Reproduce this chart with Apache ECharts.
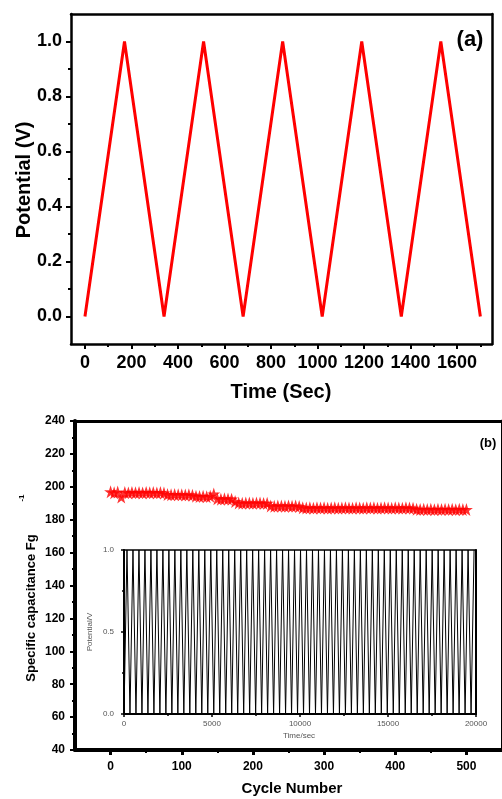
<!DOCTYPE html>
<html>
<head>
<meta charset="utf-8">
<script src="https://cdn.jsdelivr.net/npm/echarts@6/dist/echarts.min.js"></script>
<style>
html,body{margin:0;padding:0;background:#fff;}
#c{width:502px;height:799px;}
</style>
</head>
<body>
<div id="c"></div>
<script>
// ---- Panel (a): galvanostatic charge/discharge ----
var timeA = [0, 170, 340, 510, 680, 850, 1020, 1190, 1360, 1530, 1700];
var potentialA = [0, 1, 0, 1, 0, 1, 0, 1, 0, 1, 0];
var xTicksA = [0, 200, 400, 600, 800, 1000, 1200, 1400, 1600];
var xMinorA = [100, 300, 500, 700, 900, 1100, 1300, 1500, 1700];
var yTicksA = [0, 0.2, 0.4, 0.6, 0.8, 1.0];
var yMinorA = [0.1, 0.3, 0.5, 0.7, 0.9];

// ---- Panel (b): cycling stability ----
var cycles = [0,5,10,15,20,25,30,35,40,45,50,55,60,65,70,75,80,85,90,95,
  100,105,110,115,120,125,130,135,140,145,150,155,160,165,170,175,180,185,190,195,
  200,205,210,215,220,225,230,235,240,245,250,255,260,265,270,275,280,285,290,295,
  300,305,310,315,320,325,330,335,340,345,350,355,360,365,370,375,380,385,390,395,
  400,405,410,415,420,425,430,435,440,445,450,455,460,465,470,475,480,485,490,495,500];
var capacitance = [197.0,196.4,196.8,193.8,196.5,196.3,196.6,196.4,196.5,196.3,
  196.6,196.4,196.5,196.3,196.5,196.2,195.3,195.1,195.3,195.2,
  195.2,195.0,195.2,194.9,194.3,194.1,194.3,194.0,194.2,195.6,
  192.7,192.5,192.7,192.6,192.5,191.0,190.2,190.0,190.2,190.1,
  190.0,190.2,190.1,189.9,190.0,188.4,188.2,188.4,188.3,188.2,
  188.4,188.2,188.3,188.0,187.2,187.1,187.2,187.0,187.2,187.1,
  187.2,187.0,187.1,187.2,187.0,187.1,187.2,187.1,187.0,187.2,
  187.1,187.0,187.2,187.1,187.2,187.0,187.1,187.2,187.1,187.0,
  187.2,187.1,187.0,187.2,187.1,187.0,186.3,186.2,186.4,186.2,
  186.3,186.1,186.3,186.2,186.4,186.2,186.3,186.1,186.3,186.2,186.2];
var xTicksB = [0, 100, 200, 300, 400, 500];
var xMinorB = [50, 150, 250, 350, 450];
var yTicksB = [40, 60, 80, 100, 120, 140, 160, 180, 200, 220, 240];
var yMinorB = [50, 70, 90, 110, 130, 150, 170, 190, 210, 230];

// ---- Inset: long-term charge/discharge ----
var timeInset = [0,170,340,510,680,850,1020,1190,1360,1530,
  1700,1870,2040,2210,2380,2550,2720,2890,3060,3230,
  3400,3570,3740,3910,4080,4250,4420,4590,4760,4930,
  5100,5270,5440,5610,5780,5950,6120,6290,6460,6630,
  6800,6970,7140,7310,7480,7650,7820,7990,8160,8330,
  8500,8670,8840,9010,9180,9350,9520,9690,9860,10030,
  10200,10370,10540,10710,10880,11050,11220,11390,11560,11730,
  11900,12070,12240,12410,12580,12750,12920,13090,13260,13430,
  13600,13770,13940,14110,14280,14450,14620,14790,14960,15130,
  15300,15470,15640,15810,15980,16150,16320,16490,16660,16830,
  17000,17170,17340,17510,17680,17850,18020,18190,18360,18530,
  18700,18870,19040,19210,19380,19550,19720,19890];
var potentialInset = [0,1,0,1,0,1,0,1,0,1,
  0,1,0,1,0,1,0,1,0,1,
  0,1,0,1,0,1,0,1,0,1,
  0,1,0,1,0,1,0,1,0,1,
  0,1,0,1,0,1,0,1,0,1,
  0,1,0,1,0,1,0,1,0,1,
  0,1,0,1,0,1,0,1,0,1,
  0,1,0,1,0,1,0,1,0,1,
  0,1,0,1,0,1,0,1,0,1,
  0,1,0,1,0,1,0,1,0,1,
  0,1,0,1,0,1,0,1,0,1,
  0,1,0,1,0,1,0,1];
var xTicksInset = [0, 5000, 10000, 15000, 20000];
var xMinorInset = [2500, 7500, 12500, 17500];
var yTicksInset = [0, 0.5, 1.0];
var yMinorInset = [0.25, 0.75];

function zip(a, b) { return a.map(function (v, i) { return [v, b[i]]; }); }
function plain(v) { return String(Math.round(v)); }
function oneDec(v) { return Number(v).toFixed(1); }

var FONT = 'Liberation Sans, Arial, Helvetica, sans-serif';
var STAR = 'path://M50,0 L61.2,34.5 L97.6,34.5 L68.2,55.9 L79.4,90.5 L50,69.1 L20.6,90.5 L31.8,55.9 L2.4,34.5 L38.8,34.5 Z';

function lineOnly(w) { return { show: true, onZero: false, lineStyle: { color: '#000', width: w } }; }
function noLine() { return { show: false, onZero: false }; }

var chart = echarts.init(document.getElementById('c'), null, { renderer: 'canvas' });

var option = {
  backgroundColor: '#fff',
  animation: false,
  grid: [
    { left: 71, top: 14, right: 10, bottom: 455 },
    { left: 75, top: 421, right: -8, bottom: 49 },
    { left: 124, top: 550, right: 26, bottom: 85 }
  ],
  xAxis: [
    // grid 0
    { gridIndex: 0, type: 'value', min: -60, max: 1750, position: 'bottom',
      axisLine: lineOnly(2.5), splitLine: { show: false },
      axisTick: { show: true, customValues: xTicksA, length: 5, lineStyle: { width: 2, color: '#000' } },
      axisLabel: { customValues: xTicksA, formatter: plain, margin: 10, fontSize: 18, fontWeight: 'bold', fontFamily: FONT, color: '#000' } },
    { gridIndex: 0, type: 'value', min: -60, max: 1750, position: 'bottom',
      axisLine: noLine(), splitLine: { show: false },
      axisTick: { show: true, customValues: xMinorA, length: 3, lineStyle: { width: 2, color: '#000' } },
      axisLabel: { show: false } },
    { gridIndex: 0, type: 'value', min: -60, max: 1750, position: 'top',
      axisLine: lineOnly(2.5), splitLine: { show: false }, axisTick: { show: false }, axisLabel: { show: false } },
    // grid 1
    { gridIndex: 1, type: 'value', min: -50, max: 550, position: 'bottom',
      axisLine: lineOnly(4), splitLine: { show: false },
      axisTick: { show: true, customValues: xTicksB, length: 5, lineStyle: { width: 3, color: '#000' } },
      axisLabel: { customValues: xTicksB, formatter: plain, margin: 11, fontSize: 12, fontWeight: 'bold', fontFamily: FONT, color: '#000' } },
    { gridIndex: 1, type: 'value', min: -50, max: 550, position: 'bottom',
      axisLine: noLine(), splitLine: { show: false },
      axisTick: { show: true, customValues: xMinorB, length: 3, lineStyle: { width: 2, color: '#000' } },
      axisLabel: { show: false } },
    { gridIndex: 1, type: 'value', min: -50, max: 550, position: 'top',
      axisLine: lineOnly(3), splitLine: { show: false }, axisTick: { show: false }, axisLabel: { show: false } },
    // grid 2 (inset)
    { gridIndex: 2, type: 'value', min: 0, max: 20000, position: 'bottom',
      axisLine: lineOnly(2), splitLine: { show: false },
      axisTick: { show: true, customValues: xTicksInset, length: 3, lineStyle: { width: 1.5, color: '#000' } },
      axisLabel: { customValues: xTicksInset, formatter: plain, margin: 6, fontSize: 8, fontFamily: FONT, color: '#555' } },
    { gridIndex: 2, type: 'value', min: 0, max: 20000, position: 'bottom',
      axisLine: noLine(), splitLine: { show: false },
      axisTick: { show: true, customValues: xMinorInset, length: 2, lineStyle: { width: 1.5, color: '#000' } },
      axisLabel: { show: false } },
    { gridIndex: 2, type: 'value', min: 0, max: 20000, position: 'top',
      axisLine: lineOnly(1.5), splitLine: { show: false }, axisTick: { show: false }, axisLabel: { show: false } }
  ],
  yAxis: [
    // grid 0
    { gridIndex: 0, type: 'value', min: -0.1, max: 1.1, position: 'left',
      axisLine: lineOnly(2.5), splitLine: { show: false },
      axisTick: { show: true, customValues: yTicksA, length: 5, lineStyle: { width: 2, color: '#000' } },
      axisLabel: { customValues: yTicksA, formatter: oneDec, margin: 9, fontSize: 18, fontWeight: 'bold', fontFamily: FONT, color: '#000' } },
    { gridIndex: 0, type: 'value', min: -0.1, max: 1.1, position: 'left',
      axisLine: noLine(), splitLine: { show: false },
      axisTick: { show: true, customValues: yMinorA, length: 3, lineStyle: { width: 2, color: '#000' } },
      axisLabel: { show: false } },
    { gridIndex: 0, type: 'value', min: -0.1, max: 1.1, position: 'right',
      axisLine: lineOnly(2.5), splitLine: { show: false }, axisTick: { show: false }, axisLabel: { show: false } },
    // grid 1
    { gridIndex: 1, type: 'value', min: 40, max: 240, position: 'left',
      axisLine: lineOnly(4), splitLine: { show: false },
      axisTick: { show: true, customValues: yTicksB, length: 5, lineStyle: { width: 2, color: '#000' } },
      axisLabel: { customValues: yTicksB, formatter: plain, margin: 10, fontSize: 12, fontWeight: 'bold', fontFamily: FONT, color: '#000' } },
    { gridIndex: 1, type: 'value', min: 40, max: 240, position: 'left',
      axisLine: noLine(), splitLine: { show: false },
      axisTick: { show: true, customValues: yMinorB, length: 3, lineStyle: { width: 2, color: '#000' } },
      axisLabel: { show: false } },
    { gridIndex: 1, type: 'value', min: 40, max: 240, position: 'right',
      axisLine: lineOnly(3), splitLine: { show: false }, axisTick: { show: false }, axisLabel: { show: false } },
    // grid 2 (inset)
    { gridIndex: 2, type: 'value', min: 0, max: 1, position: 'left',
      axisLine: lineOnly(2), splitLine: { show: false },
      axisTick: { show: true, customValues: yTicksInset, length: 3, lineStyle: { width: 1.5, color: '#000' } },
      axisLabel: { customValues: yTicksInset, formatter: oneDec, margin: 10, fontSize: 8, fontFamily: FONT, color: '#555' } },
    { gridIndex: 2, type: 'value', min: 0, max: 1, position: 'left',
      axisLine: noLine(), splitLine: { show: false },
      axisTick: { show: true, customValues: yMinorInset, length: 2, lineStyle: { width: 1.5, color: '#000' } },
      axisLabel: { show: false } },
    { gridIndex: 2, type: 'value', min: 0, max: 1, position: 'right',
      axisLine: lineOnly(2), splitLine: { show: false }, axisTick: { show: false }, axisLabel: { show: false } }
  ],
  series: [
    { type: 'line', xAxisIndex: 0, yAxisIndex: 0, data: zip(timeA, potentialA),
      symbol: 'none', lineStyle: { color: '#ff0000', width: 3 }, z: 5 },
    { type: 'scatter', xAxisIndex: 3, yAxisIndex: 3, data: zip(cycles, capacitance),
      symbol: STAR, symbolSize: 13, itemStyle: { color: '#ff0000' }, z: 5 },
    { type: 'line', xAxisIndex: 6, yAxisIndex: 6, data: zip(timeInset, potentialInset),
      symbol: 'none', lineStyle: { color: '#000', width: 1 }, z: 4 }
  ],
  graphic: [
    { type: 'text', x: 24, y: 180, rotation: Math.PI / 2,
      style: { text: 'Potential (V)', fontSize: 20, fontWeight: 'bold', fontFamily: FONT, fill: '#000',
        textAlign: 'center', textVerticalAlign: 'middle', align: 'center', verticalAlign: 'middle' } },
    { type: 'text', x: 281, y: 392,
      style: { text: 'Time (Sec)', fontSize: 20, fontWeight: 'bold', fontFamily: FONT, fill: '#000',
        textAlign: 'center', textVerticalAlign: 'middle', align: 'center', verticalAlign: 'middle' } },
    { type: 'text', x: 470, y: 40,
      style: { text: '(a)', fontSize: 22, fontWeight: 'bold', fontFamily: FONT, fill: '#000',
        textAlign: 'center', textVerticalAlign: 'middle', align: 'center', verticalAlign: 'middle' } },
    { type: 'text', x: 31, y: 608, rotation: Math.PI / 2,
      style: { text: 'Specific capacitance Fg', fontSize: 13, fontWeight: 'bold', fontFamily: FONT, fill: '#000',
        textAlign: 'center', textVerticalAlign: 'middle', align: 'center', verticalAlign: 'middle' } },
    { type: 'text', x: 22, y: 498, rotation: Math.PI / 2,
      style: { text: '-1', fontSize: 8, fontWeight: 'bold', fontFamily: FONT, fill: '#000',
        textAlign: 'center', textVerticalAlign: 'middle', align: 'center', verticalAlign: 'middle' } },
    { type: 'text', x: 292, y: 789,
      style: { text: 'Cycle Number', fontSize: 15, fontWeight: 'bold', fontFamily: FONT, fill: '#000',
        textAlign: 'center', textVerticalAlign: 'middle', align: 'center', verticalAlign: 'middle' } },
    { type: 'text', x: 488, y: 443,
      style: { text: '(b)', fontSize: 13, fontWeight: 'bold', fontFamily: FONT, fill: '#000',
        textAlign: 'center', textVerticalAlign: 'middle', align: 'center', verticalAlign: 'middle' } },
    { type: 'text', x: 90, y: 632, rotation: Math.PI / 2,
      style: { text: 'Potential/V', fontSize: 8, fontFamily: FONT, fill: '#555',
        textAlign: 'center', textVerticalAlign: 'middle', align: 'center', verticalAlign: 'middle' } },
    { type: 'text', x: 299, y: 736,
      style: { text: 'Time/sec', fontSize: 8, fontFamily: FONT, fill: '#555',
        textAlign: 'center', textVerticalAlign: 'middle', align: 'center', verticalAlign: 'middle' } }
  ]
};
chart.setOption(option);
</script>
</body>
</html>
